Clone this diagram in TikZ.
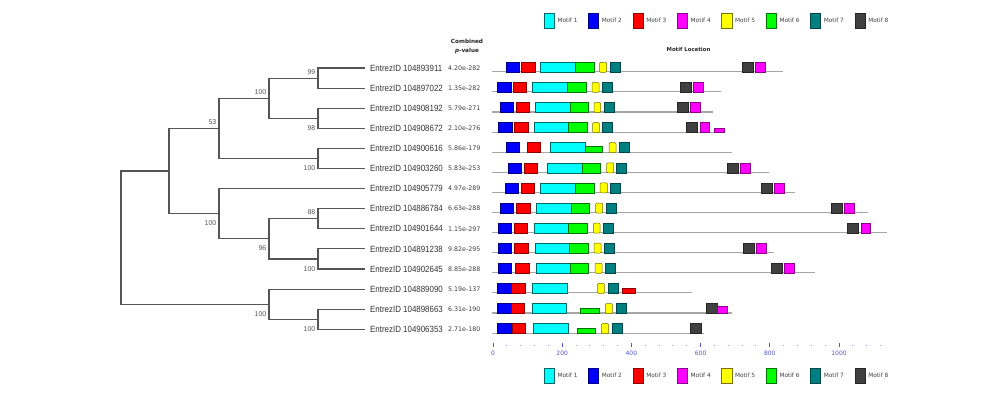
\documentclass[tikz,border=0pt]{standalone}
\usepackage{fontspec}
\setmainfont{Liberation Sans}
\newfontfamily\dv{DejaVu Sans}
\definecolor{cMa}{HTML}{00FFFF}
\definecolor{cMb}{HTML}{0000FF}
\definecolor{cMc}{HTML}{FF0000}
\definecolor{cMd}{HTML}{FF00FF}
\definecolor{cMe}{HTML}{FFFF00}
\definecolor{cMf}{HTML}{00FF00}
\definecolor{cMg}{HTML}{008080}
\definecolor{cMh}{HTML}{404040}
\definecolor{treecol}{HTML}{555555}
\definecolor{axiscol}{HTML}{5555CC}
\newcommand\leaftxt[1]{\scalebox{0.88}[1]{#1}}
\newcommand\mtf[3]{\draw[#1] (#2,-5.7) rectangle (#3,4.3);}
\newcommand\mtfs[4]{\draw[#1] (#2,4.3-#4) rectangle (#3,4.3);}
\newcommand\seqln[1]{\draw[seqline] (492,3.8) -- (#1,3.8);}
\tikzset{
  tree/.style={draw=treecol, line width=1.1pt},
  leaf/.style={anchor=west, inner sep=0pt, text=black!80, font=\fontsize{9}{9}\selectfont},
  pval/.style={anchor=west, inner sep=0pt, text=black!75, font=\dv\fontsize{6.3}{6.3}\selectfont},
  bs/.style={anchor=east, inner sep=0pt, text=black!65, font=\fontsize{7}{7}\selectfont},
  hdr/.style={inner sep=0pt, text=black!85, font=\dv\bfseries\fontsize{5.7}{6}\selectfont},
  seqline/.style={draw=black!35, line width=1.1pt},
  mbase/.style={line width=0.5pt},
  m1/.style={mbase, fill=cMa, draw=cMg!80!black},
  m2/.style={mbase, fill=cMb, draw=cMb!50!black},
  m3/.style={mbase, fill=cMc, draw=cMc!55!black},
  m4/.style={mbase, fill=cMd, draw=cMd!55!black},
  m5/.style={mbase, fill=cMe, draw=cMe!45!black, rounded corners=1pt},
  m6/.style={mbase, fill=cMf, draw=cMf!45!black},
  m7/.style={mbase, fill=cMg, draw=cMg!55!black},
  m8/.style={mbase, fill=cMh, draw=cMh!60!black},
  legtxt/.style={anchor=west, inner sep=0pt, text=black!75, font=\dv\fontsize{5.8}{6}\selectfont},
  axlab/.style={inner sep=0pt, text=axiscol, font=\dv\fontsize{6}{6}\selectfont},
}
\begin{document}
\begin{tikzpicture}[x=1pt, y=-1pt]
\useasboundingbox (0,0) rectangle (1000,404);
\fill[white] (0,0) rectangle (1000,404);

% ---------- legends ----------
\foreach \yy/\nm in {20.8/top, 375.8/bot}{
  \foreach \i/\st in {1/m1,2/m2,3/m3,4/m4,5/m5,6/m6,7/m7,8/m8}{
    \pgfmathsetmacro{\xx}{544+44.4*(\i-1)}
    \draw[\st, rounded corners=0pt] (\xx,\yy-7.5) rectangle (\xx+10.3,\yy+7.5);
    \node[legtxt] (leg\nm\i) at (\xx+13.3,\yy) {Motif \i};
  }
}

% ---------- headers ----------
\node[hdr] (hcomb) at (467,41) {Combined};
\node[hdr] (hpval) at (467,51) {\itshape p\upshape -value};
\node[hdr, font=\dv\bfseries\fontsize{5.4}{6}\selectfont] (hloc) at (688.5,49) {Motif Location};

% ---------- tree coordinates ----------
\coordinate (root) at (121,237.6);
\coordinate (nX) at (169,171);
\coordinate (n53) at (219,128.3);
\coordinate (nA) at (269,98.15);
\coordinate (n99) at (318,78.05);
\coordinate (n98) at (318,118.25);
\coordinate (nB) at (318,158.45);
\coordinate (nC) at (219,213.7);
\coordinate (n96) at (269,238.85);
\coordinate (n88) at (318,218.75);
\coordinate (nD) at (318,258.95);
\coordinate (nY) at (269,304.2);
\coordinate (nE) at (318,319.25);
\foreach \i in {1,...,14}{
  \pgfmathsetmacro{\yy}{68+20.1*(\i-1)}
  \coordinate (t\i) at (365,\yy);
}

% ---------- tree edges ----------
\draw[tree] (root) |- (nX);
\draw[tree] (root) |- (nY);
\draw[tree] (nX) |- (n53);
\draw[tree] (nX) |- (nC);
\draw[tree] (n53) |- (nA);
\draw[tree] (n53) |- (nB);
\draw[tree] (nA) |- (n99);
\draw[tree] (nA) |- (n98);
\draw[tree] (n99) |- (t1);
\draw[tree] (n99) |- (t2);
\draw[tree] (n98) |- (t3);
\draw[tree] (n98) |- (t4);
\draw[tree] (nB) |- (t5);
\draw[tree] (nB) |- (t6);
\draw[tree] (nC) |- (t7);
\draw[tree] (nC) |- (n96);
\draw[tree] (n96) |- (n88);
\draw[tree] (n96) |- (nD);
\draw[tree] (n88) |- (t8);
\draw[tree] (n88) |- (t9);
\draw[tree] (nD) |- (t10);
\draw[tree] (nD) |- (t11);
\draw[tree] (nY) |- (t12);
\draw[tree] (nY) |- (nE);
\draw[tree] (nE) |- (t13);
\draw[tree] (nE) |- (t14);

% ---------- bootstrap values ----------
\node[bs] (b99) at ([xshift=-2.5pt,yshift=6.3pt]n99) {99};
\node[bs] (bA) at ([xshift=-2.5pt,yshift=6.3pt]nA) {100};
\node[bs] (b98) at ([xshift=-2.5pt,yshift=-9.7pt]n98) {98};
\node[bs] (bB) at ([xshift=-2.5pt,yshift=-9.7pt]nB) {100};
\node[bs] (b53) at ([xshift=-2.5pt,yshift=6.3pt]n53) {53};
\node[bs] (bC) at ([xshift=-2.5pt,yshift=-9.7pt]nC) {100};
\node[bs] (b88) at ([xshift=-2.5pt,yshift=6.3pt]n88) {88};
\node[bs] (b96) at ([xshift=-2.5pt,yshift=-9.7pt]n96) {96};
\node[bs] (bD) at ([xshift=-2.5pt,yshift=-9.7pt]nD) {100};
\node[bs] (bY) at ([xshift=-2.5pt,yshift=-9.7pt]nY) {100};
\node[bs] (bE) at ([xshift=-2.5pt,yshift=-9.7pt]nE) {100};

% ---------- leaf labels and p-values ----------
\foreach \i/\id/\pv in {1/104893911/4.20e-282, 2/104897022/1.35e-282, 3/104908192/5.79e-271,
  4/104908672/2.10e-276, 5/104900616/5.86e-179, 6/104903260/5.83e-253, 7/104905779/4.97e-289,
  8/104886784/6.63e-288, 9/104901644/1.15e-297, 10/104891238/9.82e-295, 11/104902645/8.85e-288,
  12/104889090/5.19e-137, 13/104898663/6.31e-190, 14/104906353/2.71e-180}{
  \node[leaf] (L\i) at ([xshift=5pt]t\i) {\leaftxt{EntrezID \id}};
  \node[pval] (P\i) at ([xshift=83pt]t\i) {\pv};
}

% ---------- motif rows ----------
\begin{scope}[shift={(0,68)}]
\seqln{783}
\mtf{m2}{506}{519}\mtf{m3}{521.7}{535}\mtf{m1}{540.7}{575.7}\mtf{m6}{575.7}{594}
\mtf{m5}{599.5}{606.5}\mtf{m7}{610.3}{620.3}\mtf{m8}{742.7}{753.3}\mtf{m4}{755.3}{765.3}
\end{scope}
\begin{scope}[shift={(0,88.1)}]
\seqln{720.7}
\mtf{m2}{497.7}{511}\mtf{m3}{513.3}{526.7}\mtf{m1}{532.7}{567.7}\mtf{m6}{567.7}{586.7}
\mtf{m5}{592}{599}\mtf{m7}{602.7}{612.7}\mtf{m8}{680.3}{691.3}\mtf{m4}{693.7}{703.3}
\end{scope}
\begin{scope}[shift={(0,108.2)}]
\seqln{712.7}
\mtf{m2}{500}{513.3}\mtf{m3}{516}{529.3}\mtf{m1}{535.3}{570}\mtf{m6}{570}{588.7}
\mtf{m5}{594}{600.7}\mtf{m7}{604}{614.3}\mtf{m8}{677.3}{688}\mtf{m4}{690.7}{700.3}
\end{scope}
\begin{scope}[shift={(0,128.3)}]
\seqln{724.3}
\mtf{m2}{498.7}{512}\mtf{m3}{514.7}{528}\mtf{m1}{534}{568.7}\mtf{m6}{568.7}{587.7}
\mtf{m5}{592.7}{599.3}\mtf{m7}{602.7}{612.7}\mtf{m8}{686.7}{697.3}\mtf{m4}{700}{709.3}
\mtfs{m4}{714.7}{724.3}{4}
\end{scope}
\begin{scope}[shift={(0,148.4)}]
\seqln{731.7}
\mtf{m2}{506}{519}\mtf{m3}{527.7}{540.7}\mtf{m1}{550.3}{585}\mtfs{m6}{585}{602.7}{6}
\mtf{m5}{609}{616}\mtf{m7}{619.3}{629.3}
\end{scope}
\begin{scope}[shift={(0,168.5)}]
\seqln{769.3}
\mtf{m2}{508.7}{521.7}\mtf{m3}{524.3}{537.3}\mtf{m1}{547.3}{582}\mtf{m6}{582}{600}
\mtf{m5}{606.7}{613.7}\mtf{m7}{616.7}{626.7}\mtf{m8}{727.7}{738.7}\mtf{m4}{740.7}{750.3}
\end{scope}
\begin{scope}[shift={(0,188.6)}]
\seqln{795}
\mtf{m2}{505}{518.3}\mtf{m3}{521}{534.3}\mtf{m1}{540.7}{575.7}\mtf{m6}{575.7}{594}
\mtf{m5}{600}{607.3}\mtf{m7}{610.7}{620.7}\mtf{m8}{761}{772}\mtf{m4}{774.3}{784}
\end{scope}
\begin{scope}[shift={(0,208.7)}]
\seqln{867.7}
\mtf{m2}{500.7}{513.7}\mtf{m3}{516.7}{530}\mtf{m1}{536.7}{571.3}\mtf{m6}{571.3}{589.7}
\mtf{m5}{595.7}{602.7}\mtf{m7}{606}{616}\mtf{m8}{831}{842.3}\mtf{m4}{844.7}{854.3}
\end{scope}
\begin{scope}[shift={(0,228.8)}]
\seqln{887.3}
\mtf{m2}{498.3}{511.3}\mtf{m3}{514.3}{527.3}\mtf{m1}{534}{568.3}\mtf{m6}{568.3}{587}
\mtf{m5}{593.3}{600}\mtf{m7}{603.7}{613.7}\mtf{m8}{847.3}{858.3}\mtf{m4}{861}{870.7}
\end{scope}
\begin{scope}[shift={(0,248.9)}]
\seqln{774}
\mtf{m2}{498.3}{511.7}\mtf{m3}{514.7}{528.3}\mtf{m1}{535}{569.7}\mtf{m6}{569.7}{588}
\mtf{m5}{594}{601}\mtf{m7}{604.3}{614.3}\mtf{m8}{743}{754}\mtf{m4}{756.3}{766}
\end{scope}
\begin{scope}[shift={(0,269)}]
\seqln{815}
\mtf{m2}{498.3}{511.3}\mtf{m3}{515.7}{529}\mtf{m1}{536}{570.7}\mtf{m6}{570.7}{588.7}
\mtf{m5}{595}{602}\mtf{m7}{605.7}{615.7}\mtf{m8}{771.7}{782.7}\mtf{m4}{784.7}{794.3}
\end{scope}
\begin{scope}[shift={(0,289.1)}]
\seqln{692}
\mtf{m2}{497.7}{511}\mtf{m3}{511}{525.3}\mtf{m1}{532.7}{567.3}
\mtf{m5}{597.3}{604.3}\mtf{m7}{608}{618}\mtfs{m3}{622}{635.3}{5}
\end{scope}
\begin{scope}[shift={(0,309.2)}]
\seqln{732.3}
\mtf{m2}{497.7}{511}\mtf{m3}{511}{524.7}\mtf{m1}{532}{566.7}\mtfs{m6}{580.7}{599}{5}
\mtf{m5}{605.3}{612.3}\mtf{m7}{616}{626}\mtf{m8}{706.3}{717.3}\mtfs{m4}{717.3}{727.3}{7}
\end{scope}
\begin{scope}[shift={(0,329.3)}]
\seqln{704}
\mtf{m2}{497.7}{511}\mtf{m3}{512.3}{525.7}\mtf{m1}{533.3}{568}\mtfs{m6}{577}{595.7}{5}
\mtf{m5}{601.3}{608.7}\mtf{m7}{612.3}{622.3}\mtf{m8}{690.7}{701.3}
\end{scope}

% ---------- axis ----------
\foreach \v in {40,80,...,1120}{
  \pgfmathsetmacro{\ax}{493+0.346*\v}
  \fill[axiscol!60] (\ax-0.5,344.8) rectangle (\ax+0.5,345.8);
}
\foreach \v in {0,200,...,1000}{
  \pgfmathsetmacro{\ax}{493+0.346*\v}
  \draw[axiscol, line width=0.9pt] (\ax,343.3) -- (\ax,347.3);
  \node[axlab] (ax\v) at (\ax,353.3) {\v};
}
\end{tikzpicture}
\end{document}
